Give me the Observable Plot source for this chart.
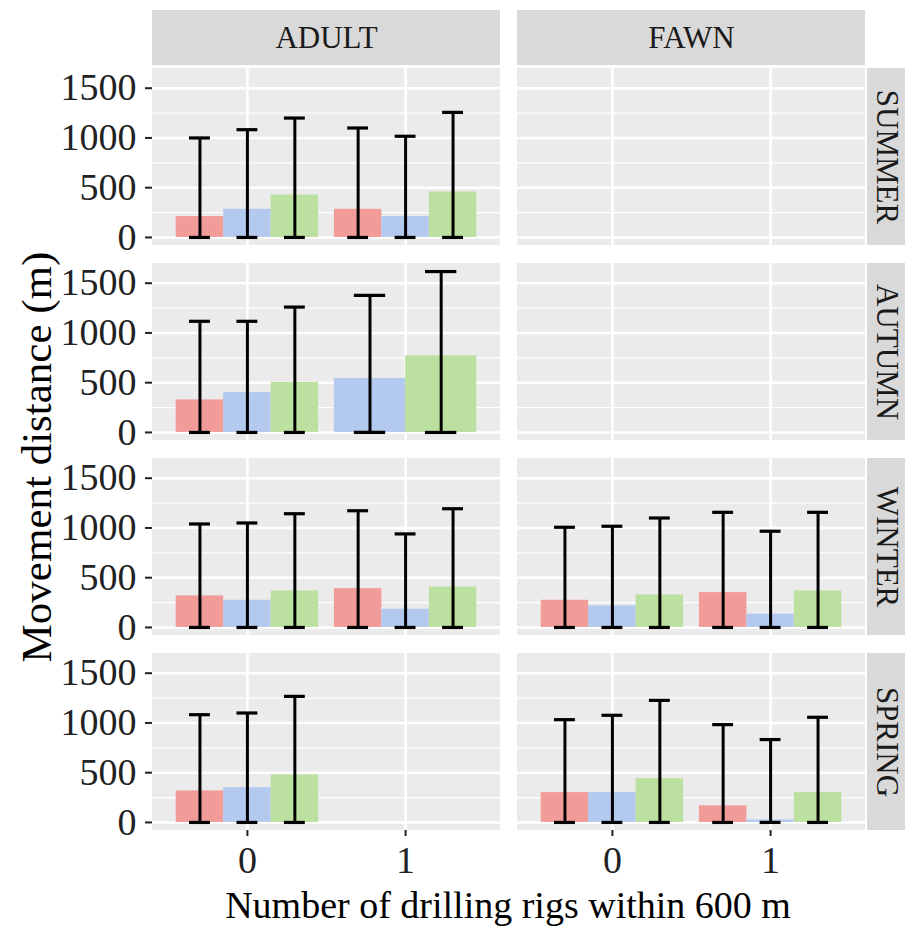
<!DOCTYPE html>
<html>
<head>
<meta charset="utf-8">
<script src="https://cdn.jsdelivr.net/npm/d3@7"></script>
<script src="https://cdn.jsdelivr.net/npm/@observablehq/plot@0.6"></script>
<style>
  body { margin: 0; background: #fff; }
  #chart svg g[aria-label$="tick"] path { stroke-width: 2px; }
  #chart svg g.tick line { stroke-width: 2px; }
</style>
</head>
<body>
<div id="chart"></div>
<script>
// ---- categories ----
const ages = ["ADULT", "FAWN"];
const seasons = ["SUMMER", "AUTUMN", "WINTER", "SPRING"];
const rigCounts = [0, 1];
const groups = ["Group 1", "Group 2", "Group 3"];
const groupColors = ["#F29C9A", "#B4C9EE", "#BCE0A0"];
const yTicks = [0, 500, 1000, 1500];
const yMinorTicks = [250, 750, 1250];

// ---- values: order = rigs 0 (G1, G2, G3), rigs 1 (G1, G2, G3); null = no data ----
const adultSummerMean  = [210, 283, 427, 283, 210, 457];
const adultSummerUpper = [1000, 1083, 1200, 1100, 1017, 1257];
const adultAutumnMean  = [327, 400, 503, null, 543, 770];
const adultAutumnUpper = [1117, 1117, 1260, null, 1377, 1617];
const adultWinterMean  = [317, 273, 367, 390, 183, 407];
const adultWinterUpper = [1040, 1050, 1143, 1173, 940, 1193];
const adultSpringMean  = [317, 350, 477, null, null, null];
const adultSpringUpper = [1083, 1100, 1267, null, null, null];
const fawnSummerMean   = [null, null, null, null, null, null];
const fawnSummerUpper  = [null, null, null, null, null, null];
const fawnAutumnMean   = [null, null, null, null, null, null];
const fawnAutumnUpper  = [null, null, null, null, null, null];
const fawnWinterMean   = [273, 217, 327, 350, 133, 367];
const fawnWinterUpper  = [1007, 1017, 1100, 1157, 967, 1157];
const fawnSpringMean   = [300, 300, 440, 167, 25, 300];
const fawnSpringUpper  = [1033, 1077, 1227, 983, 833, 1057];

const panelValues = {
  "ADULT|SUMMER": [adultSummerMean, adultSummerUpper],
  "ADULT|AUTUMN": [adultAutumnMean, adultAutumnUpper],
  "ADULT|WINTER": [adultWinterMean, adultWinterUpper],
  "ADULT|SPRING": [adultSpringMean, adultSpringUpper],
  "FAWN|SUMMER": [fawnSummerMean, fawnSummerUpper],
  "FAWN|AUTUMN": [fawnAutumnMean, fawnAutumnUpper],
  "FAWN|WINTER": [fawnWinterMean, fawnWinterUpper],
  "FAWN|SPRING": [fawnSpringMean, fawnSpringUpper]
};

// build table with ggplot-like dodge (width 0.9 shared by present groups)
const rows = [];
for (const age of ages) for (const season of seasons) {
  const [m, u] = panelValues[age + "|" + season];
  rigCounts.forEach((r, ri) => {
    const present = groups
      .map((g, gi) => ({g, mean: m[ri * 3 + gi], upper: u[ri * 3 + gi]}))
      .filter(d => d.mean != null);
    const w = 0.9 / Math.max(present.length, 1);
    present.forEach((d, i) => {
      const c = r - 0.45 + w * (i + 0.5);
      rows.push({age, season, rigs: r, group: d.g, mean: d.mean, upper: d.upper,
        x1: c - w / 2, x2: c + w / 2, xc: c, cap1: c - 0.22 * w, cap2: c + 0.22 * w});
    });
  });
}
const panels = d3.cross(ages, seasons);
const serif = "'Liberation Serif', 'Times New Roman', serif";

const chart = Plot.plot({
  width: 915,
  height: 930,
  marginLeft: 152,
  marginRight: 50,
  marginTop: 66,
  marginBottom: 98,
  style: {fontFamily: serif, fontSize: "38px", color: "#222", background: "#fff"},
  fx: {domain: ages, padding: 0.0466, axis: null},
  fy: {domain: seasons, padding: 0.0918, axis: null},
  x: {domain: [-0.6, 1.6], ticks: rigCounts, tickFormat: d => String(d), tickSize: 6, tickPadding: 10, label: null},
  y: {domain: [-81, 1698], ticks: yTicks, tickFormat: d => String(d), tickSize: 7, tickPadding: 9, label: null},
  color: {domain: groups, range: groupColors},
  marks: [
    Plot.rect(panels, {fx: d => d[0], fy: d => d[1], fill: "#EBEBEB"}),
    Plot.ruleY(yMinorTicks, {stroke: "white", strokeWidth: 1.3}),
    Plot.ruleY(yTicks, {stroke: "white", strokeWidth: 2.6}),
    Plot.ruleX(rigCounts, {stroke: "white", strokeWidth: 2.6}),
    Plot.rect(rows, {fx: "age", fy: "season", x1: "x1", x2: "x2", y1: () => 0, y2: "mean", fill: "group"}),
    Plot.ruleX(rows, {fx: "age", fy: "season", x: "xc", y1: () => 0, y2: "upper", stroke: "#000", strokeWidth: 3}),
    Plot.ruleY(rows, {fx: "age", fy: "season", y: "upper", x1: "cap1", x2: "cap2", stroke: "#000", strokeWidth: 3.2}),
    Plot.ruleY(rows, {fx: "age", fy: "season", y: () => 0, x1: "cap1", x2: "cap2", stroke: "#000", strokeWidth: 3.2}),
    // top strips
    Plot.rect(ages, {fx: d => d, fy: () => seasons[0], fill: "#D9D9D9", insetTop: -58, insetBottom: 180}),
    Plot.text(ages, {fx: d => d, fy: () => seasons[0], text: d => d, frameAnchor: "top", lineAnchor: "middle", textAnchor: "middle", dy: -30, fontSize: 31, fill: "#1A1A1A"}),
    // right strips
    Plot.rect(seasons, {fx: () => ages[1], fy: d => d, fill: "#D9D9D9", insetLeft: 350, insetRight: -40}),
    Plot.text(seasons, {fx: () => ages[1], fy: d => d, text: d => d, frameAnchor: "right", lineAnchor: "middle", textAnchor: "middle", dx: 21, rotate: 90, fontSize: 31, fill: "#1A1A1A"})
  ]
});

const svg = d3.select(chart);
svg.append("text")
  .attr("x", 508).attr("y", 905)
  .attr("text-anchor", "middle").attr("dy", "0.35em")
  .attr("font-family", serif)
  .attr("font-size", 38).attr("fill", "#000")
  .text("Number of drilling rigs within 600 m");
svg.append("text")
  .attr("transform", "translate(36,457) rotate(-90)")
  .attr("text-anchor", "middle").attr("dy", "0.35em")
  .attr("font-family", serif)
  .attr("font-size", 43).attr("fill", "#000")
  .text("Movement distance (m)");

document.getElementById("chart").appendChild(chart);
</script>
</body>
</html>
